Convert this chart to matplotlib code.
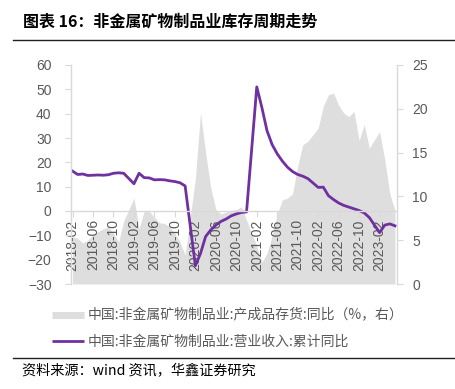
import matplotlib
matplotlib.use('Agg')
import matplotlib.pyplot as plt
from matplotlib.lines import Line2D
import pandas as pd
import numpy as np

# ---- data (monthly, January not published) ----
months = ['2018-02', '2018-03', '2018-04', '2018-05', '2018-06', '2018-07', '2018-08', '2018-09',
          '2018-10', '2018-11', '2018-12',
          '2019-02', '2019-03', '2019-04', '2019-05', '2019-06', '2019-07', '2019-08', '2019-09',
          '2019-10', '2019-11', '2019-12',
          '2020-02', '2020-03', '2020-04', '2020-05', '2020-06', '2020-07', '2020-08', '2020-09',
          '2020-10', '2020-11', '2020-12',
          '2021-02', '2021-03', '2021-04', '2021-05', '2021-06', '2021-07', '2021-08', '2021-09',
          '2021-10', '2021-11', '2021-12',
          '2022-02', '2022-03', '2022-04', '2022-05', '2022-06', '2022-07', '2022-08', '2022-09',
          '2022-10', '2022-11', '2022-12',
          '2023-02', '2023-03', '2023-04', '2023-05']

inventory_yoy = [5.4, 5.2, 4.7, 5.0, 5.6, 6.0, 6.3, 6.5, 5.8, 4.8, 7.2,
                 9.8, 6.3, 8.3, 8.3, 7.6, 7.0, 6.9, 6.5, 5.8, 4.8, 3.3,
                 12.0, 19.5, 15.0, 11.0, 8.5, 8.0, 8.2, 8.4, 8.5, 8.8, 7.3,
                 4.3, 2.5, 3.5, 5.5, 8.0, 9.6, 9.8, 10.3, 13.5, 15.9, 16.3,
                 17.8, 20.3, 21.6, 21.8, 20.4, 19.5, 19.1, 19.7, 16.4, 18.2, 15.5,
                 17.4, 14.2, 10.3, 8.4]

revenue_yoy = [16.4, 15.0, 15.2, 14.6, 14.7, 14.8, 14.7, 14.9, 15.5, 15.7, 15.5,
               11.2, 15.5, 13.7, 13.6, 12.8, 12.9, 12.8, 12.4, 12.1, 11.6, 10.3,
               -22.5, -17.5, -10.5, -7.8, -5.8, -4.3, -3.3, -2.0, -1.2, -0.6, -0.4,
               51.0, 42.5, 33.0, 27.3, 23.5, 20.5, 18.0, 16.2, 15.0, 14.3, 13.3,
               9.7, 9.8, 6.3, 4.7, 3.3, 2.3, 1.6, 0.9, 0.2, -0.8, -2.7,
               -8.9, -5.8, -5.3, -6.1]

tick_labels = ['2018-02', '2018-06', '2018-10', '2019-02', '2019-06', '2019-10',
               '2020-02', '2020-06', '2020-10', '2021-02', '2021-06', '2021-10',
               '2022-02', '2022-06', '2022-10', '2023-02']

left_ticks = [-30, -20, -10, 0, 10, 20, 30, 40, 50, 60]
right_ticks = [0, 5, 10, 15, 20, 25]

title = '图表 16：非金属矿物制品业库存周期走势'
label_inv = '中国:非金属矿物制品业:产成品存货:同比（%，右）'
label_rev = '中国:非金属矿物制品业:营业收入:累计同比'
source = '资料来源：wind 资讯，华鑫证券研究'

# ---- styling ----
plt.rcParams['font.family'] = ['Liberation Sans', 'Noto Sans CJK SC']
CJK = ['Noto Sans CJK SC', 'DejaVu Sans']
GRAY_TXT = '#595959'
SPINE = '#d9d9d9'
AREA = '#dedede'
PURPLE = '#7030a0'

base = pd.Period('2018-02', 'M')
x = np.array([(pd.Period(m, 'M') - base).n for m in months])
tick_x = [(pd.Period(t, 'M') - base).n for t in tick_labels]

W, H = 455, 389
fig = plt.figure(figsize=(W / 100, H / 100), dpi=100)
L, R, T, B = 71, 397, 65, 284
ax = fig.add_axes([L / W, 1 - B / H, (R - L) / W, (B - T) / H])
ax2 = ax.twinx()
ax.set_zorder(ax2.get_zorder() + 1)
ax.patch.set_visible(False)

ax2.fill_between(x, inventory_yoy, 0, color=AREA, lw=0)
ax.plot(x, revenue_yoy, color=PURPLE, lw=2, solid_joinstyle='round')

ax.set_ylim(-30, 60)
ax2.set_ylim(0, 25)
ax.set_xlim(-0.3, 63.4)

ax.set_yticks(left_ticks)
ax2.set_yticks(right_ticks)
ax.set_xticks(tick_x)
ax.set_xticklabels(tick_labels)

for s in ['top', 'right']:
    ax.spines[s].set_visible(False)
for s in ['top', 'left', 'bottom']:
    ax2.spines[s].set_visible(False)
ax.spines['bottom'].set_position(('data', 0))
for sp in [ax.spines['left'], ax.spines['bottom'], ax2.spines['right']]:
    sp.set_color(SPINE)
    sp.set_linewidth(1)

ax.tick_params(axis='y', direction='out', length=4, color=SPINE, labelcolor=GRAY_TXT,
               labelsize=10, pad=10)
ax2.tick_params(axis='y', direction='out', length=4, color=SPINE, labelcolor=GRAY_TXT,
                labelsize=10, pad=7)
ax.tick_params(axis='x', direction='out', length=4, color=SPINE, labelcolor=GRAY_TXT,
               labelsize=10, pad=2, labelrotation=90)

# title and rules
fig.text(23 / W, 1 - 22 / H, title, fontsize=11.5, fontweight='bold', va='center',
         ha='left', family=CJK, color='#000000')
fig.add_artist(Line2D([13 / W, 1.0], [1 - 40 / H] * 2, color='#222222', lw=1))
fig.add_artist(Line2D([13 / W, 1.0], [1 - 358 / H] * 2, color='#222222', lw=1))
fig.text(22 / W, 1 - 371 / H, source, fontsize=10.2, va='center', ha='left',
         family=CJK, color='#000000')

# legend
handles = [Line2D([], [], color=AREA, lw=5, solid_capstyle='butt'),
           Line2D([], [], color=PURPLE, lw=2, solid_capstyle='butt')]
leg = fig.legend(handles, [label_inv, label_rev], loc='upper left',
                 bbox_to_anchor=(46 / W, 1 - 303 / H), frameon=False,
                 handlelength=2.3, handletextpad=0.3, labelspacing=0.85,
                 prop={'family': CJK, 'size': 10}, borderaxespad=0)
for t in leg.get_texts():
    t.set_color(GRAY_TXT)

fig.savefig('out.png', dpi=100)
